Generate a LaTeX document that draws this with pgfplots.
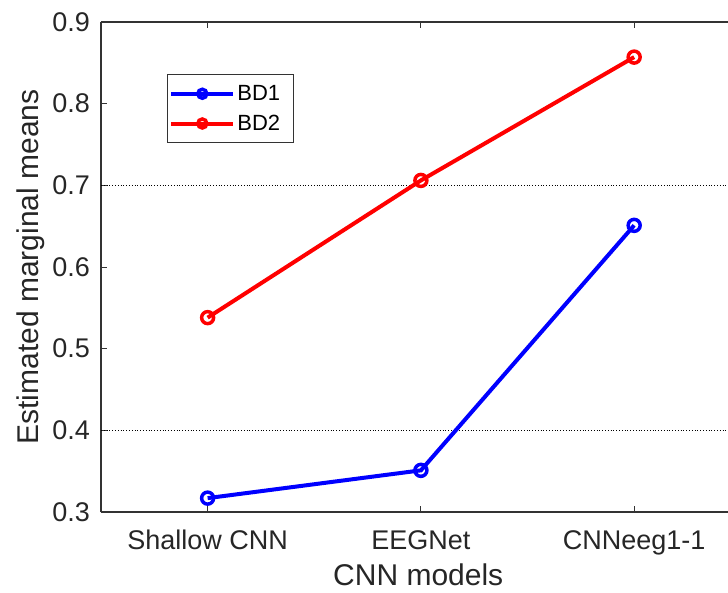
\documentclass[border=0pt]{standalone}
\usepackage{pgfplots}
\pgfplotsset{compat=1.18}
\usepackage{fontspec}
\setmainfont{Liberation Sans}
\begin{document}
\begin{tikzpicture}
\begin{axis}[
  scale only axis,
  width=627pt, height=490pt,
  xmin=0.5, xmax=3.44,
  ymin=0.3, ymax=0.9,
  axis x line=box,
  axis y line=left,
  axis line style={-, line width=1.2pt, black!80},
  tick align=inside,
  major tick length=6pt,
  tick style={line width=1pt, black!80},
  xtick={1,2,3},
  xticklabels={Shallow CNN, EEGNet, CNNeeg1-1},
  ytick={0.3,0.4,0.5,0.6,0.7,0.8,0.9},
  yticklabels={0.3,0.4,0.5,0.6,0.7,0.8,0.9},
  tick label style={font=\fontsize{27}{30}\selectfont, black!85},
  xticklabel style={inner sep=0pt, yshift=-18pt},
  yticklabel style={inner sep=0pt, xshift=-11pt},
  xlabel={CNN models},
  ylabel={Estimated marginal means},
  label style={font=\fontsize{30}{33}\selectfont, black!85},
  xlabel style={at={(axis description cs:0.506,-0.151)}, anchor=base, inner sep=0pt},
  ylabel style={at={(axis description cs:-0.134,0.5)}, anchor=north, inner sep=0pt, rotate=0},
  legend style={at={(axis description cs:0.105,0.894)}, anchor=north west, font=\fontsize{22}{24}\selectfont,
    draw=black!80, line width=1pt, inner xsep=2pt, inner ysep=9pt, row sep=9pt,
    nodes={inner sep=2pt}, cells={anchor=west}},
  legend image code/.code={\draw[#1, line width=4pt] (0pt,0pt) -- (62pt,0pt); \draw[#1, mark size=4.5pt] plot coordinates {(31pt,0pt)};},
]
\addplot[black, dotted, line width=0.8pt, forget plot] coordinates {(0.5,0.7) (3.44,0.7)};
\addplot[black, dotted, line width=0.8pt, forget plot] coordinates {(0.5,0.4) (3.44,0.4)};
\addplot[blue, line width=4pt, mark=o, mark size=6pt, mark options={line width=3.5pt, fill=white}] coordinates {(1,0.317) (2,0.351) (3,0.651)};
\addlegendentry{\makebox[52pt][l]{BD1}}
\addplot[red, line width=4pt, mark=o, mark size=6pt, mark options={line width=3.5pt, fill=white}] coordinates {(1,0.538) (2,0.706) (3,0.857)};
\addlegendentry{\makebox[52pt][l]{BD2}}
\end{axis}
\pgfresetboundingbox
\useasboundingbox (-101pt,-80pt) rectangle (627pt,512pt);
\end{tikzpicture}
\end{document}
